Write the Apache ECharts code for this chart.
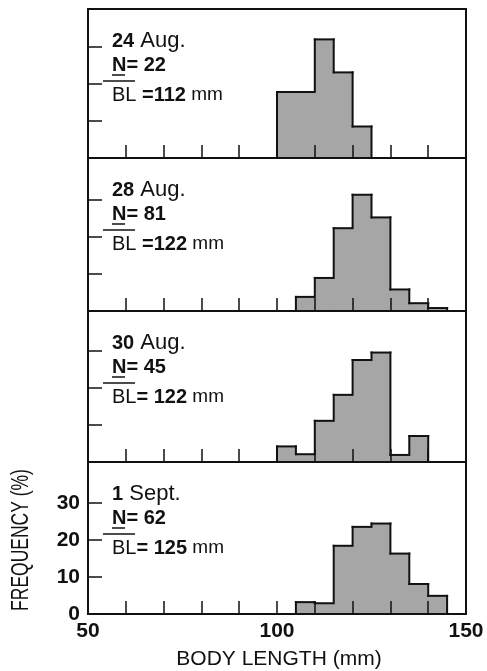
<!DOCTYPE html>
<html>
<head>
<meta charset="utf-8">
<script src="https://cdn.jsdelivr.net/npm/echarts@6/dist/echarts.min.js"></script>
<style>
  html, body { margin: 0; padding: 0; background: #fff; }
  #main { width: 487px; height: 671px; }
</style>
</head>
<body>
<div id="main"></div>
<script>
// histogram bins, 5 mm wide, start of each bin
const binStarts = [100, 105, 110, 115, 120, 125, 130, 135, 140, 145];
const binWidth = 5;

// frequency (%) per bin
const freq24Aug = [17.8, 17.8, 32.0, 23.1, 8.5, 0, 0, 0, 0, 0];
const freq28Aug = [0, 3.8, 8.9, 22.3, 31.3, 25.2, 5.8, 2.1, 0.8, 0];
const freq30Aug = [4.2, 2.1, 11.1, 18.1, 27.5, 29.5, 1.9, 7.0, 0, 0];
const freq1Sept = [0, 3.2, 2.9, 18.4, 23.5, 24.4, 16.3, 8.1, 4.9, 0];

// panel labels
const dayLabels = ['24', '28', '30', '1'];
const monthLabels = ['Aug.', 'Aug.', 'Aug.', 'Sept.'];
const nLabels = ['= 22', '= 81', '= 45', '= 62'];
const blLabels = [' =112', ' =122', '= 122', '= 125'];

// axis ticks / labels
const xTickValues = [60, 70, 80, 90, 100, 110, 120, 130, 140];
const xLabelValues = [50, 100, 150];
const yTickValues = [10, 20, 30];
const yLabelValues = [0, 10, 20, 30];

const allFreq = [freq24Aug, freq28Aug, freq30Aug, freq1Sept];

// layout
const panelTops = [9, 158, 311, 462];
const panelHeights = [149, 153, 151, 152];
const yMax = [40.2, 41.2, 40.7, 41.0];
const ink = '#111';
const barFill = '#a6a6a6';
const numFont = '"Liberation Sans", Arial, sans-serif';

let myChart = echarts.init(document.getElementById('main'));

function renderBin(params, api) {
    let s = api.value(0);
    let v = api.value(1);
    let prev = api.value(2);
    let tl = api.coord([s, v]);
    let br = api.coord([s + binWidth, 0]);
    let pv = api.coord([s, prev]);
    let lineStyle = { stroke: ink, lineWidth: 2, lineCap: 'square' };
    let children = [];
    if (v > 0) {
        // small overlap so neighbouring bins show no seam
        children.push({
            type: 'rect',
            shape: { x: tl[0] - 0.5, y: tl[1], width: br[0] - tl[0] + 1, height: br[1] - tl[1] },
            style: { fill: barFill }
        });
        children.push({
            type: 'line',
            shape: { x1: tl[0], y1: tl[1], x2: br[0], y2: tl[1] },
            style: lineStyle
        });
    }
    if (v !== prev) {
        children.push({
            type: 'line',
            shape: { x1: tl[0], y1: tl[1], x2: tl[0], y2: pv[1] },
            style: lineStyle
        });
    }
    return { type: 'group', children: children };
}

let grids = [], xAxes = [], yAxes = [], seriesArray = [], graphics = [];

allFreq.forEach(function (freq, i) {
    let last = i === allFreq.length - 1;
    grids.push({
        left: 88, width: 378,
        top: panelTops[i], height: panelHeights[i],
        show: true, borderColor: ink, borderWidth: 2,
        backgroundColor: 'transparent', z: 4
    });
    xAxes.push({
        type: 'value', gridIndex: i, min: 50, max: 150, interval: 10,
        z: 5,
        axisLine: { lineStyle: { color: ink, width: 2 } },
        axisTick: { inside: true, length: 13, customValues: xTickValues, lineStyle: { color: ink, width: 1.5 } },
        axisLabel: last ? {
            customValues: xLabelValues, color: ink, fontSize: 21, fontWeight: 'bold',
            fontFamily: numFont, margin: 7
        } : { show: false },
        splitLine: { show: false }
    });
    yAxes.push({
        type: 'value', gridIndex: i, min: 0, max: yMax[i],
        z: 5,
        axisLine: { show: true, lineStyle: { color: ink, width: 2 } },
        axisTick: { show: true, inside: true, length: 14, customValues: yTickValues, lineStyle: { color: ink, width: 1.5 } },
        axisLabel: last ? {
            customValues: yLabelValues, color: ink, fontSize: 21, fontWeight: 'bold',
            fontFamily: numFont, margin: 8
        } : { show: false },
        splitLine: { show: false }
    });
    seriesArray.push({
        type: 'custom', xAxisIndex: i, yAxisIndex: i,
        renderItem: renderBin,
        data: binStarts.map(function (s, k) { return [s, freq[k], k > 0 ? freq[k - 1] : 0]; })
    });

    // panel text
    let top = panelTops[i];
    graphics.push({
        type: 'text', x: 112, y: top + 32,
        style: {
            text: '{d|' + dayLabels[i] + '}{m| ' + monthLabels[i] + '}',
            verticalAlign: 'middle',
            rich: {
                d: { fontSize: 20, fontWeight: 'bold', fontFamily: numFont, fill: ink },
                m: { fontSize: 22, fontFamily: numFont, fill: ink }
            }
        }
    });
    graphics.push({
        type: 'text', x: 112, y: top + 56,
        style: {
            text: 'N' + nLabels[i], fontSize: 20, fontWeight: 'bold', fontFamily: numFont, fill: ink,
            verticalAlign: 'middle'
        }
    });
    graphics.push({
        type: 'line',
        shape: { x1: 112, y1: top + 66, x2: 125, y2: top + 66 },
        style: { stroke: ink, lineWidth: 1.5 }
    });
    graphics.push({
        type: 'line',
        shape: { x1: 103, y1: top + 72, x2: 135, y2: top + 72 },
        style: { stroke: ink, lineWidth: 1.5 }
    });
    graphics.push({
        type: 'text', x: 112, y: top + 86,
        style: {
            text: '{m|BL}{b|' + blLabels[i] + '}{u| mm}',
            verticalAlign: 'middle',
            rich: {
                m: { fontSize: 20, fontFamily: numFont, fill: ink },
                b: { fontSize: 20, fontWeight: 'bold', fontFamily: numFont, fill: ink },
                u: { fontSize: 19, fontFamily: numFont, fill: ink }
            }
        }
    });
});

// axis titles
graphics.push({
    type: 'text', x: 22, y: 540, rotation: Math.PI / 2, scaleX: 0.76,
    style: {
        text: 'FREQUENCY (%)', fontSize: 23, fontFamily: numFont, fill: ink,
        align: 'center', verticalAlign: 'middle'
    }
});
graphics.push({
    type: 'text', x: 279, y: 659,
    style: {
        text: 'BODY LENGTH (mm)', fontSize: 21, fontFamily: numFont, fill: ink,
        align: 'center', verticalAlign: 'middle'
    }
});

let option = {
    animation: false,
    backgroundColor: '#fff',
    grid: grids,
    xAxis: xAxes,
    yAxis: yAxes,
    series: seriesArray,
    graphic: { elements: graphics }
};

myChart.setOption(option);
</script>
</body>
</html>
